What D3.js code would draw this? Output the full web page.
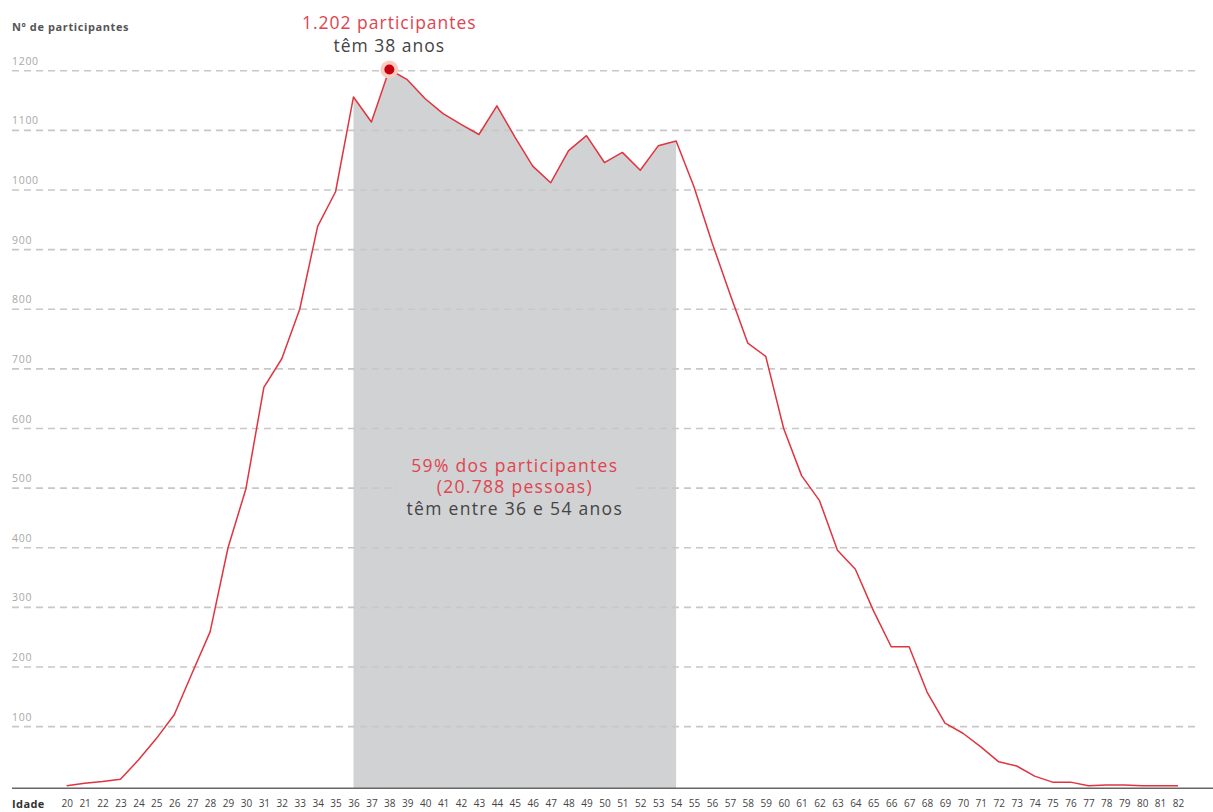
<!DOCTYPE html>
<html>
<head>
<meta charset="utf-8">
<script src="https://cdn.jsdelivr.net/npm/d3@7"></script>
<style>
  html, body { margin: 0; padding: 0; background: #fff; }
  svg { display: block; font-family: "Open Sans", "Noto Sans", sans-serif; }
</style>
</head>
<body>
<svg id="chart" width="1213" height="812"></svg>
<script>
// ---- data ----
const ages = d3.range(20, 83);
const participants = [
  1, 5, 8, 12, 44, 80, 120, 190, 259, 400,          // 20-29
  499, 669, 717, 800, 939, 997, 1156, 1114, 1202, 1185, // 30-39
  1153, 1128, 1110, 1093, 1141, 1089, 1040, 1012, 1066, 1091, // 40-49
  1046, 1063, 1033, 1074, 1082, 1005, 912, 826, 743, 721,   // 50-59
  600, 521, 479, 396, 364, 295, 234, 234, 158, 106,   // 60-69
  89, 66, 41, 34, 17, 7, 7, 1, 2, 2,                  // 70-79
  1, 1, 1                                             // 80-82
];
const yTicks = [100, 200, 300, 400, 500, 600, 700, 800, 900, 1000, 1100, 1200];
const highlightRange = [36, 54];
const peakAge = 38;
const peakLabel = ["1.202 participantes", "têm 38 anos"];
const rangeLabel = ["59% dos participantes", "(20.788 pessoas)", "têm entre 36 e 54 anos"];
const yTitle = "Nº de participantes";
const xTitle = "Idade";

const data = ages.map((a, i) => ({ age: a, value: participants[i] }));

// ---- layout ----
const svg = d3.select("#chart");
const x = d3.scaleLinear().domain([20, 82]).range([66.7, 1178]);
const y = d3.scaleLinear().domain([0, 1200]).range([786.3, 70.7]);

const RED = "#e0343f";
const TEXT_RED = "#e0444f";
const GREY_FILL = "#d1d2d4";

// shaded area 36-54
const area = d3.area()
  .x(d => x(d.age))
  .y0(y(0) + 1.7)
  .y1(d => y(d.value));
svg.append("path")
  .datum(data.filter(d => d.age >= highlightRange[0] && d.age <= highlightRange[1]))
  .attr("d", area)
  .attr("fill", GREY_FILL);

// gridlines + y tick labels
const grid = svg.append("g");
grid.selectAll("line").data(yTicks).join("line")
  .attr("x1", 12).attr("x2", 1200)
  .attr("y1", d => y(d)).attr("y2", d => y(d))
  .attr("stroke", "#c8c8c8")
  .attr("stroke-width", 1.6)
  .attr("stroke-dasharray", "7,5");
grid.selectAll("text").data(yTicks).join("text")
  .attr("x", 12).attr("y", d => y(d) - 6)
  .attr("font-size", 10.5)
  .attr("letter-spacing", 0.7)
  .attr("fill", "#a8a8a8")
  .text(d => d);

// y title
svg.append("text")
  .attr("x", 12).attr("y", 31)
  .attr("font-size", 11)
  .attr("font-weight", 700)
  .attr("letter-spacing", 0.6)
  .attr("fill", "#555")
  .text(yTitle);

// range label with background
const midX = (x(highlightRange[0]) + x(highlightRange[1])) / 2;
svg.append("rect")
  .attr("x", midX - 118).attr("y", 453)
  .attr("width", 236).attr("height", 70)
  .attr("fill", GREY_FILL);
const rl = svg.append("text").attr("text-anchor", "middle")
  .attr("font-size", 17.5).attr("letter-spacing", 1.3);
rangeLabel.forEach((t, i) => {
  rl.append("tspan")
    .attr("x", midX)
    .attr("y", 471.5 + i * 21.8)
    .attr("fill", i < 2 ? TEXT_RED : "#444")
    .text(t);
});

// line
const line = d3.line().x(d => x(d.age)).y(d => y(d.value));
svg.append("path")
  .datum(data)
  .attr("d", line)
  .attr("fill", "none")
  .attr("stroke", RED)
  .attr("stroke-width", 1.5)
  .attr("stroke-linejoin", "round");

// baseline axis
svg.append("line")
  .attr("x1", 12).attr("x2", 1213)
  .attr("y1", y(0) + 2).attr("y2", y(0) + 2)
  .attr("stroke", "#666").attr("stroke-width", 1.6);

// x axis labels
const xAxis = d3.axisBottom(x).tickValues(ages).tickSize(0).tickPadding(0).tickFormat(d3.format("d"));
const gx = svg.append("g").attr("transform", `translate(0, ${y(0) + 14})`).call(xAxis);
gx.select(".domain").remove();
gx.selectAll("text")
  .attr("font-size", 10)
  .attr("font-family", "'Open Sans', sans-serif")
  .attr("fill", "#444")
  .attr("dy", "0.71em");

svg.append("text")
  .attr("x", 12).attr("y", 808)
  .attr("font-size", 11)
  .attr("font-weight", 700)
  .attr("letter-spacing", 0.4)
  .attr("fill", "#333")
  .text(xTitle);

// peak marker
const peak = data.find(d => d.age === peakAge);
svg.append("circle")
  .attr("cx", x(peak.age)).attr("cy", y(peak.value))
  .attr("r", 9).attr("fill", "#f8cdbf");
svg.append("circle")
  .attr("cx", x(peak.age)).attr("cy", y(peak.value))
  .attr("r", 5).attr("fill", "#c8000e");

const pl = svg.append("text").attr("text-anchor", "middle")
  .attr("font-size", 17.5).attr("letter-spacing", 1.0);
peakLabel.forEach((t, i) => {
  pl.append("tspan")
    .attr("x", x(peak.age))
    .attr("y", 29 + i * 22.5)
    .attr("fill", i === 0 ? TEXT_RED : "#444")
    .text(t);
});
</script>
</body>
</html>
